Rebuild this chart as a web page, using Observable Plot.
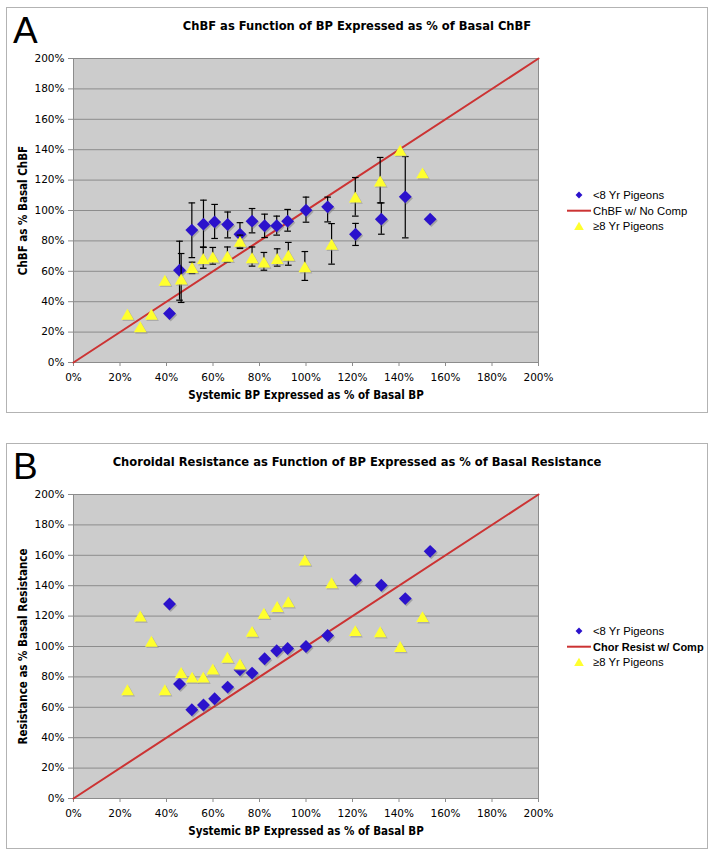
<!DOCTYPE html>
<html>
<head>
<meta charset="utf-8">
<script src="https://cdn.jsdelivr.net/npm/d3@7"></script>
<script src="https://cdn.jsdelivr.net/npm/@observablehq/plot@0.6"></script>
<style>
  html, body { margin: 0; padding: 0; background: #fff; }
  #page { position: relative; width: 714px; height: 855px; overflow: hidden; background: #fff; }
  .box { position: absolute; border: 1px solid #b3b3b3; box-sizing: border-box; }
  .plot { position: absolute; left: 0; }
  #overlay { position: absolute; left: 0; top: 0; pointer-events: none; }
</style>
</head>
<body>
<div id="page">
  <div class="box" style="left:6px;top:7px;width:702px;height:406px"></div>
  <div class="box" style="left:6px;top:443px;width:702px;height:406px"></div>
  <div class="plot" id="plotA" style="top:0px"></div>
  <div class="plot" id="plotB" style="top:436px"></div>
</div>
<script>
// ---------- data ----------
const ticks = [0, 20, 40, 60, 80, 100, 120, 140, 160, 180, 200];
const refLine = [0, 200];

// Systemic BP (% of basal) for each group
const bpYoung = [41.3, 45.6, 50.9, 55.9, 60.7, 66.3, 71.6, 76.8, 82.2, 87.4, 92.1, 100, 109.3, 121.3, 132.4, 142.7, 153.4];
const bpOld   = [23.2, 28.7, 33.5, 39.3, 46.3, 51.0, 55.8, 59.9, 66.2, 71.6, 76.8, 81.9, 87.6, 92.4, 99.5, 111.0, 121.2, 131.9, 140.5, 150.1];

// Panel A: ChBF (% of basal) with error bar ends
const chbfYoung   = [32.2, 60.7, 87.1, 91.0, 92.5, 90.8, 84.4, 93.0, 90.0, 90.0, 93.0, 100.2, 102.4, 84.4, 94.3, 109.0, 94.3];
const chbfYoungLo = [null, 41.0, 69.0, 75.7, 81.6, 82.0, 75.7, 85.3, 82.2, 83.8, 86.4, 92.3, 92.5, 77.0, 84.4, 82.0, null];
const chbfYoungHi = [null, 79.8, 105.0, 106.8, 104.0, 99.0, 92.0, 101.3, 97.6, 96.3, 100.7, 108.8, 108.8, 91.5, 105.0, 135.5, null];

const chbfOld   = [31.8, 23.5, 31.8, 54.2, 55.0, 62.5, 68.4, 69.5, 70.0, 79.8, 69.0, 66.2, 68.4, 70.6, 63.0, 77.9, 109.0, 119.5, 139.7, 124.8];
const chbfOldLo = [null, null, null, null, 39.5, 58.5, 62.0, 64.7, 66.0, 75.0, 63.4, 60.7, 63.4, 64.0, 54.0, 64.7, 96.3, 105.0, null, null];
const chbfOldHi = [null, null, null, null, 71.7, 66.0, 76.0, 75.7, 76.0, 83.8, 76.0, 72.4, 74.8, 79.0, 73.0, 91.4, 121.7, 134.9, null, null];

// Panel B: choroidal resistance (% of basal)
const resYoung = [128.0, 75.3, 58.4, 61.5, 65.6, 73.3, 84.7, 82.5, 91.9, 97.2, 98.7, 100.0, 107.2, 143.8, 140.3, 131.5, 162.6];
const resOld   = [71.6, 120.1, 103.5, 71.6, 82.9, 79.9, 79.9, 85.3, 93.0, 88.6, 110.0, 121.9, 126.3, 129.5, 156.9, 142.0, 110.5, 109.8, 100.0, 119.7];

// Text
const panelLetters = ["A", "B"];
const titles = ["ChBF as Function of BP Expressed as % of Basal ChBF",
                "Choroidal Resistance as Function of BP Expressed as % of Basal Resistance"];
const yLabels = ["ChBF as % Basal ChBF", "Resistance as % Basal Resistance"];
const xLabel = "Systemic BP Expressed as % of Basal BP";
const legendA = ["<8 Yr Pigeons", "ChBF w/ No Comp", "\u22658 Yr Pigeons"];
const legendB = ["<8 Yr Pigeons", "Chor Resist w/ Comp", "\u22658 Yr Pigeons"];

// ---------- styles ----------
const BLUE = "#2b12cc", YELLOW = "#ffff2e", RED = "#cc3333", GRID = "#8c8c8c", BG = "#cccccc";
const COND = "'DejaVu Sans Condensed', 'DejaVu Sans', sans-serif";
const pct = d => d + "%";
const capSymbol = { draw(ctx, size) { const r = Math.sqrt(size / Math.PI); ctx.moveTo(-r, 0); ctx.lineTo(r, 0); } };

function rows(xs, ys, los, his) {
  return xs.map((x, i) => ({ x, y: ys[i], lo: los ? los[i] : null, hi: his ? his[i] : null }));
}

function panel(young, old, yLabel) {
  const youngErr = young.filter(d => d.lo != null && d.hi != null);
  const oldErr = old.filter(d => d.lo != null && d.hi != null);
  const errMarks = (data) => data.length ? [
    Plot.ruleX(data, { x: "x", y1: "lo", y2: "hi", stroke: "#000", strokeWidth: 1.2 }),
    Plot.dot(data, { x: "x", y: "lo", symbol: capSymbol, r: 3.3, stroke: "#000", strokeWidth: 1.2, fill: "none" }),
    Plot.dot(data, { x: "x", y: "hi", symbol: capSymbol, r: 3.3, stroke: "#000", strokeWidth: 1.2, fill: "none" })
  ] : [];
  return Plot.plot({
    width: 714, height: 436,
    marginLeft: 73, marginRight: 176, marginTop: 58, marginBottom: 74,
    x: { domain: [0, 200] },
    y: { domain: [0, 200] },
    style: { fontFamily: "'DejaVu Sans', sans-serif", fontSize: "10.5px", background: "transparent", color: "#000", overflow: "visible" },
    marks: [
      Plot.frame({ fill: BG, stroke: null }),
      Plot.gridY(ticks, { stroke: GRID, strokeOpacity: 1, strokeWidth: 1 }),
      Plot.frame({ stroke: GRID, fill: "none" }),
      Plot.axisX(ticks, { tickSize: 4, tickPadding: 7, tickFormat: pct, stroke: GRID, fill: "#000", label: null }),
      Plot.axisY(ticks, { tickSize: 5, tickPadding: 4, tickFormat: pct, stroke: GRID, fill: "#000", label: null }),
      Plot.text([yLabel], { text: d => d, frameAnchor: "left", textAnchor: "middle", lineAnchor: "middle", dx: -50, rotate: -90, fontWeight: "bold", fontSize: 11.5, fontFamily: COND }),
      Plot.text([xLabel], { text: d => d, frameAnchor: "bottom", textAnchor: "middle", lineAnchor: "middle", dy: 33, fontWeight: "bold", fontSize: 11.5, fontFamily: COND }),
      Plot.line(refLine, { x: d => d, y: d => d, stroke: RED, strokeWidth: 2 }),
      ...errMarks(youngErr),
      Plot.dot(young, { x: "x", y: "y", symbol: "diamond2", r: 5.8, fill: "#7a7a7a", fillOpacity: 0.5, stroke: null, dx: 1.2, dy: 1.5 }),
      Plot.dot(young, { x: "x", y: "y", symbol: "diamond2", r: 5.8, fill: BLUE, stroke: null }),
      ...errMarks(oldErr),
      Plot.dot(old, { x: "x", y: "y", symbol: "triangle", r: 4.7, fill: "#8a8a8a", fillOpacity: 0.5, stroke: null, dx: 1.2, dy: 3.2 }),
      Plot.dot(old, { x: "x", y: "y", symbol: "triangle", r: 4.7, fill: YELLOW, stroke: null, dy: 1.9 })
    ]
  });
}

document.getElementById("plotA").appendChild(
  panel(rows(bpYoung, chbfYoung, chbfYoungLo, chbfYoungHi), rows(bpOld, chbfOld, chbfOldLo, chbfOldHi), yLabels[0]));
document.getElementById("plotB").appendChild(
  panel(rows(bpYoung, resYoung), rows(bpOld, resOld), yLabels[1]));

// ---------- overlay: letters, titles, legends ----------
const svg = d3.select("#page").append("svg").attr("id", "overlay").attr("width", 714).attr("height", 855);
const offsets = [0, 436];
offsets.forEach((oy, i) => {
  svg.append("text").attr("x", 13).attr("y", 43 + oy)
    .attr("font-family", "'Liberation Sans', Arial, sans-serif").attr("font-size", 37).attr("fill", "#000")
    .text(panelLetters[i]);
  svg.append("text").attr("x", 357).attr("y", 29.5 + oy).attr("text-anchor", "middle")
    .attr("font-family", COND).attr("font-weight", "bold").attr("font-size", 12.8).attr("fill", "#000")
    .text(titles[i]);
  const labels = i === 0 ? legendA : legendB;
  const g = svg.append("g").attr("transform", `translate(0,${oy})`);
  const ys = [195, 210.7, 226];
  g.append("path").attr("d", d3.symbol(d3.symbolDiamond2, 30)()).attr("transform", `translate(579,${ys[0]})`).attr("fill", BLUE);
  g.append("line").attr("x1", 567).attr("x2", 591).attr("y1", ys[1]).attr("y2", ys[1]).attr("stroke", RED).attr("stroke-width", 2);
  g.append("path").attr("d", d3.symbol(d3.symbolTriangle, 40)()).attr("transform", `translate(579,${ys[2] + 1.3})`).attr("fill", YELLOW);
  labels.forEach((t, k) => {
    g.append("text").attr("x", 593).attr("y", ys[k]).attr("dy", "0.35em")
      .attr("font-family", "'Liberation Sans', Arial, sans-serif")
      .attr("font-size", (i === 1 && k === 1) ? 11 : 11.3)
      .attr("font-weight", (i === 1 && k === 1) ? "bold" : "normal")
      .attr("fill", "#000").text(t);
  });
});
</script>
</body>
</html>
